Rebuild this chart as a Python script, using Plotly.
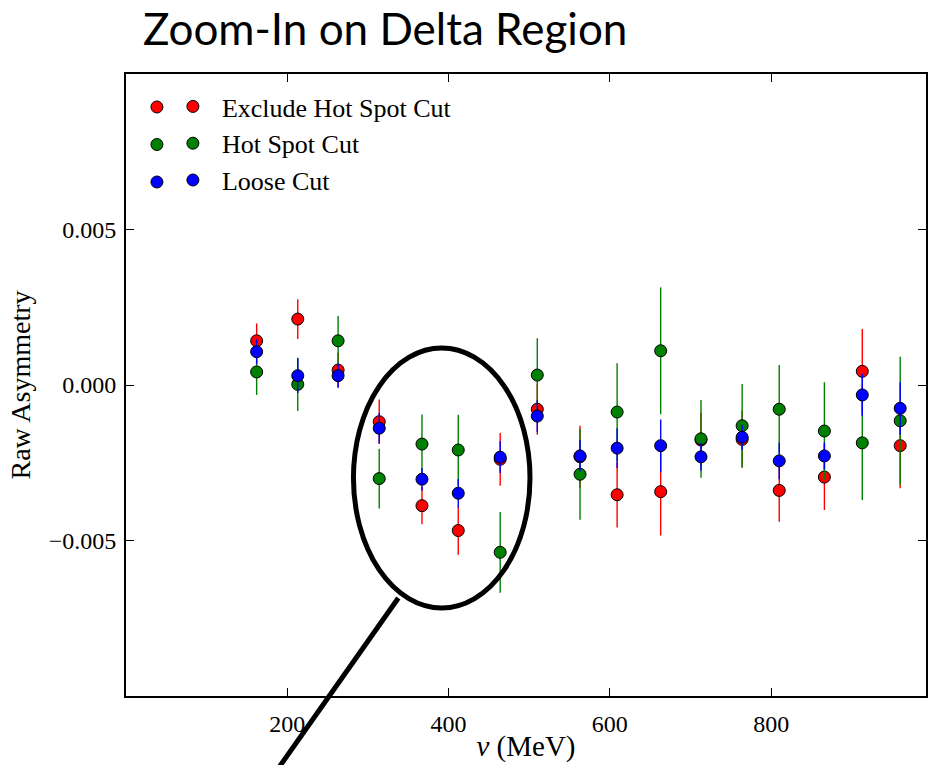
import plotly.graph_objects as go

# nu (MeV) bin centres
nu = [162, 213, 263, 314, 367, 412, 464, 510, 563, 609, 663, 713, 764, 810, 866, 913, 960]

# Exclude Hot Spot Cut
red_y = [0.00142, 0.00212, 0.00048, -0.00118, -0.00388, -0.00468, -0.00239, -0.00078, -0.00231,
         -0.00353, -0.00343, -0.00177, -0.00175, -0.00339, -0.00296, 0.00044, -0.00195]
red_err = [0.00056, 0.00064, 0.00056, 0.00071, 0.00060, 0.00078, 0.00085, 0.00082, 0.00100,
           0.00105, 0.00141, 0.00088, 0.00091, 0.00101, 0.00106, 0.00136, 0.00137]

# Hot Spot Cut
green_y = [0.00042, 0.00002, 0.00142, -0.00301, -0.00190, -0.00209, -0.00538, 0.00032, -0.00287,
           -0.00087, 0.00110, -0.00173, -0.00131, -0.00078, -0.00148, -0.00186, -0.00115]
green_err = [0.00074, 0.00086, 0.00080, 0.00096, 0.00095, 0.00113, 0.00130, 0.00118, 0.00146,
             0.00157, 0.00204, 0.00125, 0.00134, 0.00142, 0.00157, 0.00184, 0.00206]

# Loose Cut
blue_y = [0.00107, 0.00030, 0.00030, -0.00139, -0.00303, -0.00348, -0.00232, -0.00100, -0.00228,
          -0.00203, -0.00195, -0.00231, -0.00168, -0.00244, -0.00228, -0.00032, -0.00075]
blue_err = [0.00040, 0.00056, 0.00039, 0.00050, 0.00036, 0.00046, 0.00051, 0.00051, 0.00050,
            0.00064, 0.00084, 0.00045, 0.00040, 0.00059, 0.00043, 0.00068, 0.00084]

series_names = ["Exclude Hot Spot Cut", "Hot Spot Cut", "Loose Cut"]
series_colors = ["#ff0000", "#008000", "#0000ff"]
x_ticks = [200, 400, 600, 800]
y_ticks = [-0.005, 0.0, 0.005]

SERIF = "Liberation Serif, Times New Roman, serif"

fig = go.Figure()
for name, color, ys, es in zip(series_names, series_colors,
                                [red_y, green_y, blue_y], [red_err, green_err, blue_err]):
    fig.add_trace(go.Scatter(
        x=nu, y=ys, mode="markers", name=name, legendgroup=name,
        marker=dict(color=color, size=12, line=dict(color="black", width=1)),
        error_y=dict(type="data", array=es, visible=True, color=color, thickness=1.4, width=0),
    ))

axis_common = dict(showgrid=False, zeroline=False, showline=True, linecolor="black", linewidth=2,
                   mirror="ticks", ticks="inside", ticklen=8, tickwidth=1, tickcolor="black",
                   tickfont=dict(family=SERIF, size=24, color="black"))

fig.update_xaxes(range=[0, 992], tickvals=x_ticks, ticktext=[str(v) for v in x_ticks],
                 ticklabelstandoff=5,
                 title=dict(text="<i>ν</i> (MeV)", font=dict(family=SERIF, size=29, color="black"),
                            standoff=0),
                 **axis_common)
fig.update_yaxes(range=[-0.01, 0.01], tickvals=y_ticks, tickformat=".3f",
                 ticklabelstandoff=3,
                 title=dict(text="Raw Asymmetry", font=dict(family=SERIF, size=28, color="black"),
                            standoff=10),
                 **axis_common)

# legend first-marker duplicates (matplotlib numpoints=2 style)
leg_rows_px = [107, 144.5, 182]
shapes = []
for color, py in zip(series_colors, leg_rows_px):
    yp = (696 - py) / 622
    xp = (157 - 126) / 802
    shapes.append(dict(type="circle", xref="paper", yref="paper", xsizemode="pixel", ysizemode="pixel",
                       xanchor=xp, yanchor=yp, x0=-6, x1=6, y0=-6, y1=6,
                       fillcolor=color, line=dict(color="black", width=1), layer="above"))

# highlight ellipse and pointer line
shapes.append(dict(type="circle", xref="paper", yref="paper", x0=0.2843, x1=0.505, y0=0.1415, y1=0.5595,
                   line=dict(color="black", width=5), layer="above"))
shapes.append(dict(type="line", xref="paper", yref="paper", x0=0.3404, y0=0.1576, x1=0.1845, y1=-0.127,
                   line=dict(color="black", width=5), layer="above"))

fig.update_layout(
    width=934, height=765,
    margin=dict(l=126, r=6, t=74, b=69),
    paper_bgcolor="white", plot_bgcolor="white",
    title=dict(text="Zoom-In on Delta Region", x=143 / 934, xanchor="left", y=1 - 30 / 765,
               yanchor="middle", font=dict(family="Lato, Open Sans, sans-serif", size=44, color="black")),
    showlegend=True,
    legend=dict(x=(164 - 126) / 802, y=(696 - 83) / 622, xanchor="left", yanchor="top",
                bgcolor="rgba(0,0,0,0)", borderwidth=0, tracegroupgap=0, itemwidth=48,
                font=dict(family=SERIF, size=26, color="black")),
    shapes=shapes,
)

fig.write_html("out.html", config={"displayModeBar": False},
               post_script="document.body.style.margin='0px';")
